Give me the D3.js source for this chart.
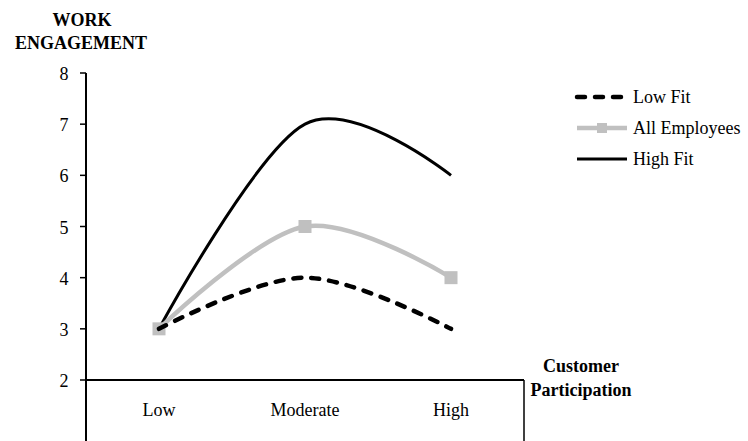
<!DOCTYPE html>
<html lang="en">
<head>
<meta charset="UTF-8">
<title>Work engagement</title>
<script src="https://cdn.jsdelivr.net/npm/d3@7"></script>
<style>
    body { margin: 0; background: #fff; }
    svg text { font-size: 18px; fill: #000; }
    .bold { font-weight: bold; }
</style>
</head>
<body>
<script>
    const categories = ["Low", "Moderate", "High"];
    const lowFit = [3, 4, 3];
    const allEmployees = [3, 5, 4];
    const highFit = [3, 7, 6];
    const yTicks = [2, 3, 4, 5, 6, 7, 8];

    const width = 748, height = 441;
    const plotLeft = 86, plotRight = 524, plotTop = 73, plotBottom = 380;

    const svg = d3.select("body").append("svg")
        .attr("width", width)
        .attr("height", height)
        .attr("font-family", "'Liberation Serif', 'DejaVu Serif', serif");

    const x = d3.scaleBand().domain(categories).range([plotLeft, plotRight]);
    const y = d3.scaleLinear().domain([2, 8]).range([plotBottom, plotTop]);

    // y axis (runs on below the category axis)
    svg.append("line")
        .attr("x1", plotLeft).attr("x2", plotLeft)
        .attr("y1", plotTop).attr("y2", height)
        .attr("stroke", "#000").attr("stroke-width", 2);

    svg.selectAll("line.ytick")
        .data(yTicks)
        .join("line").attr("class", "ytick")
        .attr("x1", plotLeft - 6).attr("x2", plotLeft)
        .attr("y1", d => y(d)).attr("y2", d => y(d))
        .attr("stroke", "#000").attr("stroke-width", 1.5);

    svg.selectAll("text.ylab")
        .data(yTicks)
        .join("text").attr("class", "ylab")
        .attr("x", plotLeft - 22)
        .attr("y", d => y(d) + 7)
        .attr("text-anchor", "middle")
        .text(d => d);

    // x axis and right edge
    svg.append("line")
        .attr("x1", plotLeft).attr("x2", plotRight)
        .attr("y1", plotBottom).attr("y2", plotBottom)
        .attr("stroke", "#000").attr("stroke-width", 2);
    svg.append("line")
        .attr("x1", plotRight).attr("x2", plotRight)
        .attr("y1", plotBottom).attr("y2", height)
        .attr("stroke", "#000").attr("stroke-width", 1.5);

    svg.selectAll("text.xlab")
        .data(categories)
        .join("text").attr("class", "xlab")
        .attr("x", d => x(d) + x.bandwidth() / 2)
        .attr("y", 416)
        .attr("text-anchor", "middle")
        .text(d => d);

    // axis titles
    svg.append("text").attr("class", "bold")
        .attr("x", 82).attr("y", 26).attr("text-anchor", "middle").text("WORK");
    svg.append("text").attr("class", "bold")
        .attr("x", 81).attr("y", 49).attr("text-anchor", "middle").text("ENGAGEMENT");
    svg.append("text").attr("class", "bold")
        .attr("x", 581).attr("y", 372).attr("text-anchor", "middle").text("Customer");
    svg.append("text").attr("class", "bold")
        .attr("x", 581).attr("y", 396).attr("text-anchor", "middle").text("Participation");

    const line = d3.line()
        .x((d, i) => x(categories[i]) + x.bandwidth() / 2)
        .y(d => y(d))
        .curve(d3.curveCardinal.tension(0));

    svg.append("path").datum(highFit)
        .attr("d", line).attr("fill", "none")
        .attr("stroke", "#000").attr("stroke-width", 3);

    svg.append("path").datum(allEmployees)
        .attr("d", line).attr("fill", "none")
        .attr("stroke", "#c0c0c0").attr("stroke-width", 4.5);

    svg.selectAll("rect.marker")
        .data(allEmployees)
        .join("rect").attr("class", "marker")
        .attr("x", (d, i) => x(categories[i]) + x.bandwidth() / 2 - 6.5)
        .attr("y", d => y(d) - 6.5)
        .attr("width", 13).attr("height", 13)
        .attr("fill", "#c0c0c0");

    svg.append("path").datum(lowFit)
        .attr("d", line).attr("fill", "none")
        .attr("stroke", "#000").attr("stroke-width", 4.5)
        .attr("stroke-linecap", "round")
        .attr("stroke-dasharray", "8,10");

    // legend
    const legend = [
        { name: "Low Fit", color: "#000", w: 4.5, dash: "8,10" },
        { name: "All Employees", color: "#c0c0c0", w: 4.5, dash: null, marker: true },
        { name: "High Fit", color: "#000", w: 3, dash: null }
    ];
    const lx1 = 577, lx2 = 627;
    legend.forEach((d, i) => {
        const ly = 97 + i * 31;
        svg.append("line")
            .attr("x1", lx1).attr("x2", lx2).attr("y1", ly).attr("y2", ly)
            .attr("stroke", d.color).attr("stroke-width", d.w)
            .attr("stroke-linecap", d.dash ? "round" : "butt")
            .attr("stroke-dasharray", d.dash);
        if (d.marker) {
            svg.append("rect")
                .attr("x", (lx1 + lx2) / 2 - 5).attr("y", ly - 5)
                .attr("width", 10).attr("height", 10)
                .attr("fill", d.color);
        }
        svg.append("text")
            .attr("x", 633).attr("y", ly + 6)
            .text(d.name);
    });
</script>
</body>
</html>
